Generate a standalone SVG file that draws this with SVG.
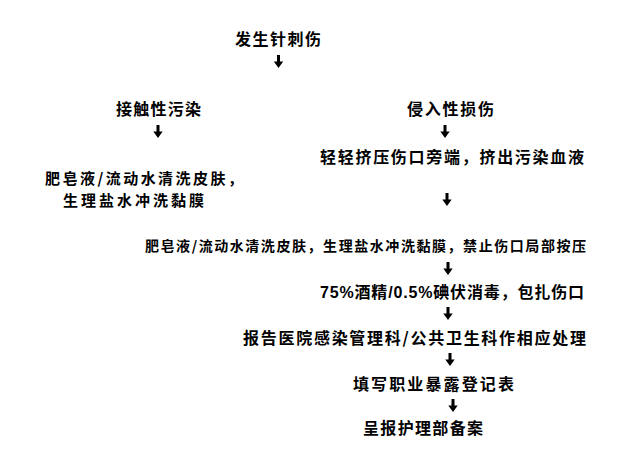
<svg xmlns="http://www.w3.org/2000/svg" width="640" height="468" viewBox="0 0 640 468">
  <defs>
    <style>
      .t { font-family: "Noto Sans CJK SC", "Liberation Sans", sans-serif; font-size: 16px; font-weight: bold; fill: #000; }
      .s { font-size: 14px; }
      .m { font-size: 15px; }
      .lat { font-family: "Liberation Sans", "Noto Sans CJK SC", sans-serif; }
      .c { fill: #000; stroke: none; }
    </style>
    <path id="arw" d="M-1.5,0 L1.5,0 L1.5,6.5 L4.7,6.5 L0,13 L-4.7,6.5 L-1.5,6.5 Z"/>
  </defs>
  <rect width="640" height="468" fill="#fff"/>

  <g id="n1"><text class="t" x="235" y="45" textLength="86" lengthAdjust="spacing">发生针刺伤</text></g>
  <g id="n2"><text class="t" x="116" y="114.5" textLength="85" lengthAdjust="spacing">接触性污染</text></g>
  <g id="n3"><text class="t" x="407" y="114.5" textLength="87" lengthAdjust="spacing">侵入性损伤</text></g>
  <g id="n4"><text class="t" x="320" y="163" textLength="264" lengthAdjust="spacing">轻轻挤压伤口旁端，挤出污染血液</text></g>
  <g id="n5">
    <text class="t m"><tspan x="45" y="183.5" textLength="198" lengthAdjust="spacing">肥皂液/流动水清洗皮肤，</tspan><tspan x="63" y="206" textLength="141" lengthAdjust="spacing">生理盐水冲洗黏膜</tspan></text>
  </g>
  <g id="n6"><text class="t s" x="145" y="251" textLength="441" lengthAdjust="spacing">肥皂液/流动水清洗皮肤，生理盐水冲洗黏膜，禁止伤口局部按压</text></g>
  <g id="n7"><text class="t lat" x="320" y="297.5" textLength="264" lengthAdjust="spacing">75%酒精/0.5%碘伏消毒，包扎伤口</text></g>
  <g id="n8"><text class="t" x="243" y="344" textLength="343" lengthAdjust="spacing">报告医院感染管理科/公共卫生科作相应处理</text></g>
  <g id="n9"><text class="t" x="353" y="389.5" textLength="161" lengthAdjust="spacing">填写职业暴露登记表</text></g>
  <g id="n10"><text class="t" x="363" y="434" textLength="120" lengthAdjust="spacing">呈报护理部备案</text></g>

  <g id="connectors">
    <use class="c" href="#arw" x="278.5" y="55"/>
    <use class="c" href="#arw" x="158" y="125"/>
    <use class="c" href="#arw" x="445" y="125"/>
    <use class="c" href="#arw" x="447" y="193"/>
    <use class="c" href="#arw" x="448" y="262"/>
    <use class="c" href="#arw" x="448" y="307"/>
    <use class="c" href="#arw" x="450" y="353"/>
    <use class="c" href="#arw" x="453" y="399"/>
  </g>
</svg>
